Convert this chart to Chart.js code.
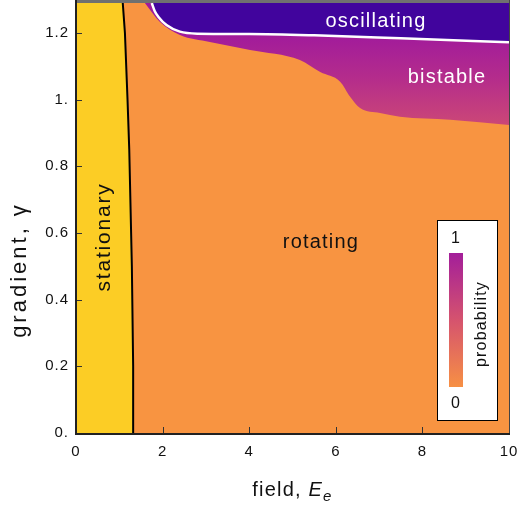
<!DOCTYPE html>
<html>
<head>
<meta charset="utf-8">
<script src="https://cdn.jsdelivr.net/npm/chart.js@4.4.0/dist/chart.umd.min.js"></script>
<style>
  html, body { margin: 0; padding: 0; background: #fff; }
  canvas { display: block; }
</style>
</head>
<body>
<canvas id="phase" width="520" height="510"></canvas>
<script>
// axes
const xTicks = [0, 2, 4, 6, 8, 10];
const xTickLabels = ['0', '2', '4', '6', '8', '10'];
const yTicks = [0, 0.2, 0.4, 0.6, 0.8, 1.0, 1.2];
const yTickLabels = ['0.', '0.2', '0.4', '0.6', '0.8', '1.', '1.2'];

// stationary / rotating boundary (black line)
const stationaryY = [0, 0.2, 0.5, 0.85, 1.0, 1.2, 1.29];
const stationaryX = [1.33, 1.32, 1.29, 1.23, 1.19, 1.13, 1.08];

// oscillating boundary (white line)
const oscX = [1.75, 1.82, 1.9, 2.09, 2.4, 2.8, 4.0, 5.5, 7.5, 10];
const oscY = [1.29, 1.265, 1.249, 1.224, 1.204, 1.198, 1.197, 1.193, 1.184, 1.172];

// lower edge of the bistable region
const bistX = [1.59, 1.94, 2.4, 3.09, 4.02, 5.17, 5.64, 6.10, 6.33, 6.56, 7.02, 7.48, 8.64, 10];
const bistY = [1.29, 1.233, 1.194, 1.173, 1.149, 1.119, 1.083, 1.054, 1.009, 0.975, 0.96, 0.949, 0.94, 0.924];

const YELLOW = '#fccd25';
const ORANGE = '#f89441';
const INDIGO = '#41049d';
const FONT = '"Liberation Sans", Arial, sans-serif';

function pts(xs, ys) {
  return xs.map((x, i) => ({x: x, y: ys[i]}));
}

function bistableFill(context) {
  const chart = context.chart;
  if (!chart.chartArea) return '#a31e9a';
  const y = chart.scales.y;
  const g = chart.ctx.createLinearGradient(0, y.getPixelForValue(1.2), 0, y.getPixelForValue(0.92));
  g.addColorStop(0, '#a01a9c');
  g.addColorStop(0.5, '#b52d8b');
  g.addColorStop(1, '#cc4876');
  return g;
}

const decor = {
  id: 'decor',
  beforeDraw(chart) {
    chart.ctx.letterSpacing = '1px';
  },
  beforeDatasetsDraw(chart) {
    const {ctx, chartArea: a} = chart;
    ctx.save();
    ctx.fillStyle = ORANGE;
    ctx.fillRect(a.left, a.top, a.right - a.left, a.bottom - a.top);
    ctx.restore();
  },
  afterDatasetsDraw(chart) {
    const {ctx, chartArea: a, scales} = chart;
    ctx.save();
    ctx.letterSpacing = '1.2px';

    // region labels
    ctx.font = '20px ' + FONT;
    ctx.textAlign = 'center';
    ctx.textBaseline = 'alphabetic';
    ctx.fillStyle = '#ffffff';
    ctx.fillText('oscillating', 376, 27);
    ctx.fillText('bistable', 447, 83);
    ctx.fillStyle = '#111';
    ctx.fillText('rotating', 321, 248);
    ctx.save();
    ctx.translate(110, 237);
    ctx.rotate(-Math.PI / 2);
    ctx.font = '21px ' + FONT;
    ctx.letterSpacing = '1.8px';
    ctx.fillText('stationary', 0, 0);
    ctx.restore();

    // colour bar
    ctx.fillStyle = '#fff';
    ctx.fillRect(437, 220, 60, 200);
    ctx.strokeStyle = '#000';
    ctx.lineWidth = 1;
    ctx.strokeRect(437.5, 220.5, 60, 200);
    const cg = ctx.createLinearGradient(0, 387, 0, 253);
    cg.addColorStop(0, '#f79044');
    cg.addColorStop(0.5, '#d5536e');
    cg.addColorStop(1, '#a31e9a');
    ctx.fillStyle = cg;
    ctx.fillRect(449, 253, 14, 134);
    ctx.fillStyle = '#111';
    ctx.font = '16px ' + FONT;
    ctx.textBaseline = 'middle';
    ctx.fillText('1', 456, 239);
    ctx.fillText('0', 456, 404);
    ctx.save();
    ctx.translate(486, 324);
    ctx.rotate(-Math.PI / 2);
    ctx.textBaseline = 'alphabetic';
    ctx.fillText('probability', 0, 0);
    ctx.restore();

    // inward tick marks
    ctx.strokeStyle = '#333';
    ctx.lineWidth = 1;
    ctx.beginPath();
    xTicks.forEach(v => {
      const px = Math.round(scales.x.getPixelForValue(v)) + 0.5;
      ctx.moveTo(px, a.bottom);
      ctx.lineTo(px, a.bottom - 6);
    });
    yTicks.forEach(v => {
      const py = Math.round(scales.y.getPixelForValue(v)) + 0.5;
      ctx.moveTo(a.left, py);
      ctx.lineTo(a.left + 6, py);
    });
    ctx.stroke();

    // frame
    ctx.fillStyle = '#707070';
    ctx.fillRect(a.left, 0, a.right - a.left + 1, a.top);
    ctx.strokeStyle = '#444';
    ctx.lineWidth = 1;
    ctx.beginPath();
    ctx.moveTo(a.right + 0.5, 0);
    ctx.lineTo(a.right + 0.5, a.bottom + 1);
    ctx.stroke();
    ctx.strokeStyle = '#222';
    ctx.lineWidth = 2;
    ctx.beginPath();
    ctx.moveTo(a.left, 0);
    ctx.lineTo(a.left, a.bottom + 1);
    ctx.lineTo(a.right + 1, a.bottom + 1);
    ctx.stroke();
    ctx.restore();
  },
  afterDraw(chart) {
    const {ctx, chartArea: a} = chart;
    ctx.save();
    ctx.letterSpacing = '1.2px';
    ctx.fillStyle = '#111';
    ctx.textBaseline = 'alphabetic';
    ctx.textAlign = 'left';

    // x title: field, E_e
    const big = '20px ' + FONT;
    const ital = 'italic 20px ' + FONT;
    const sub = 'italic 15px ' + FONT;
    ctx.font = big;
    const w1 = ctx.measureText('field, ').width;
    ctx.font = ital;
    const w2 = ctx.measureText('E').width;
    ctx.font = sub;
    const w3 = ctx.measureText('e').width;
    let x0 = (a.left + a.right) / 2 - (w1 + w2 + w3) / 2;
    const base = 496;
    ctx.font = big;
    ctx.fillText('field, ', x0, base);
    ctx.font = ital;
    ctx.fillText('E', x0 + w1, base);
    ctx.font = sub;
    ctx.fillText('e', x0 + w1 + w2, base + 5);

    // y title
    ctx.save();
    ctx.translate(26, 270);
    ctx.rotate(-Math.PI / 2);
    ctx.textAlign = 'center';
    ctx.font = '22px ' + FONT;
    ctx.letterSpacing = '3px';
    ctx.fillText('gradient, \u03b3', 0, 0);
    ctx.restore();
    ctx.restore();
  }
};

new Chart(document.getElementById('phase'), {
  type: 'line',
  data: {
    datasets: [
      {
        label: 'stationary',
        data: pts(stationaryX, stationaryY),
        indexAxis: 'y',
        fill: { value: 0 },
        backgroundColor: YELLOW,
        borderColor: '#000',
        borderWidth: 2,
        pointRadius: 0,
        order: 0
      },
      {
        label: 'oscillating',
        data: pts(oscX, oscY),
        fill: 'end',
        backgroundColor: INDIGO,
        borderColor: '#fff',
        borderWidth: 2.5,
        pointRadius: 0,
        cubicInterpolationMode: 'monotone',
        order: 1
      },
      {
        label: 'bistable',
        data: pts(bistX, bistY),
        fill: 'end',
        backgroundColor: bistableFill,
        borderWidth: 0,
        pointRadius: 0,
        cubicInterpolationMode: 'monotone',
        order: 2
      }
    ]
  },
  options: {
    responsive: false,
    animation: false,
    devicePixelRatio: 1,
    layout: { padding: { top: 3, right: 11, left: 0, bottom: 0 } },
    plugins: { legend: { display: false }, tooltip: { enabled: false } },
    scales: {
      x: {
        type: 'linear',
        min: 0,
        max: 10,
        afterBuildTicks: s => { s.ticks = xTicks.map(v => ({value: v})); },
        afterFit: s => { s.height = 77; s.paddingLeft = 0; s.paddingRight = 0; },
        grid: { display: false, drawTicks: false },
        border: { display: false },
        ticks: {
          padding: 10,
          color: '#111',
          font: { family: FONT, size: 15 },
          maxRotation: 0,
          autoSkip: false,
          callback: (v, i) => xTickLabels[i]
        }
      },
      y: {
        type: 'linear',
        min: 0,
        max: 1.29,
        afterBuildTicks: s => { s.ticks = yTicks.map(v => ({value: v})); },
        afterFit: s => { s.width = 76; s.paddingTop = 0; s.paddingBottom = 0; },
        grid: { display: false, drawTicks: false },
        border: { display: false },
        ticks: {
          padding: 7,
          color: '#111',
          font: { family: FONT, size: 15 },
          autoSkip: false,
          callback: (v, i) => yTickLabels[i]
        }
      }
    }
  },
  plugins: [decor]
});
</script>
</body>
</html>
